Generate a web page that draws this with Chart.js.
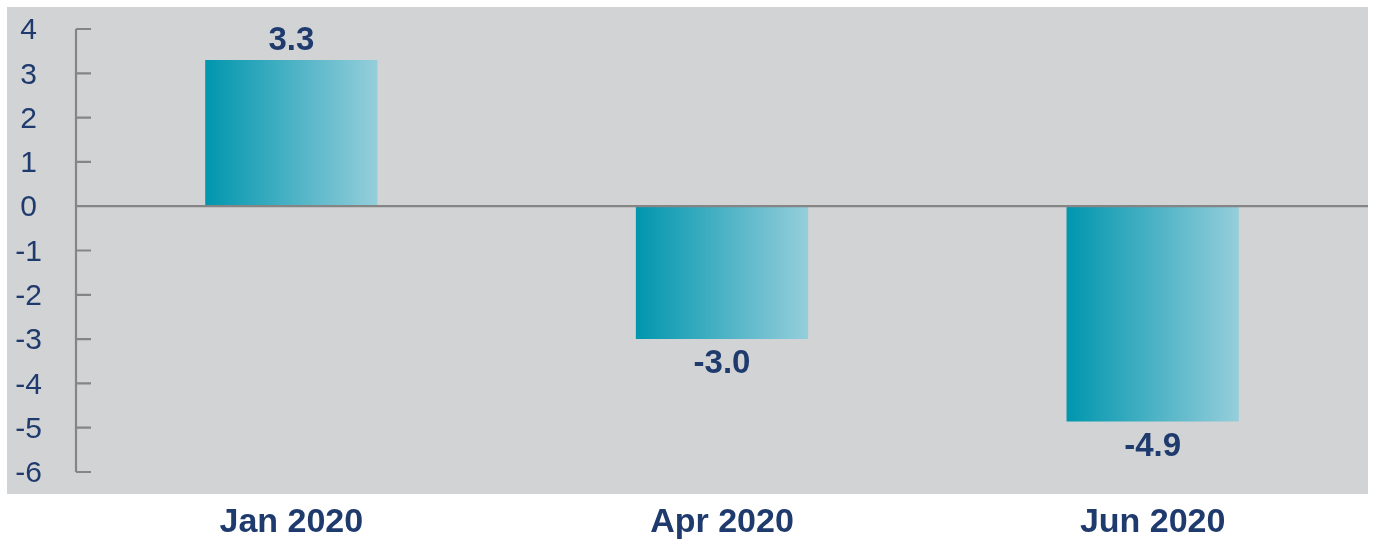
<!DOCTYPE html>
<html>
<head>
<meta charset="utf-8">
<script src="https://cdn.jsdelivr.net/npm/chart.js@4"></script>
<style>
html,body{margin:0;padding:0;background:#ffffff;}
#wrap{width:1373px;height:544px;position:relative;}
</style>
</head>
<body>
<div id="wrap"><canvas id="c" width="1373" height="544"></canvas></div>
<script>
const categories = ["Jan 2020", "Apr 2020", "Jun 2020"];
const values = [3.3, -3.0, -4.86];
const yMin = -6;
const yMax = 4;

const NAVY = "#1f3b6e";
const AXIS = "#858585";
const FONT = "'Liberation Sans', Arial, Helvetica, sans-serif";

const bgPlugin = {
  id: "bgPlugin",
  beforeDraw(chart) {
    const ctx = chart.ctx;
    const a = chart.chartArea;
    ctx.save();
    ctx.fillStyle = "#d2d3d5";
    ctx.fillRect(7, 7, a.right - 7, 494 - 7);
    ctx.restore();
  }
};

const gradPlugin = {
  id: "gradPlugin",
  beforeDatasetsDraw(chart) {
    const ctx = chart.ctx;
    chart.getDatasetMeta(0).data.forEach(el => {
      const l = el.x - el.width / 2, r = el.x + el.width / 2;
      const g = ctx.createLinearGradient(l, 0, r, 0);
      g.addColorStop(0, "#0096ae");
      g.addColorStop(1, "#95cedb");
      el.options = Object.assign({}, el.options, { backgroundColor: g });
    });
  }
};

const axisPlugin = {
  id: "axisPlugin",
  afterDatasetsDraw(chart) {
    const ctx = chart.ctx;
    const y = chart.scales.y;
    const x0 = chart.chartArea.left;
    ctx.save();
    ctx.strokeStyle = AXIS;
    ctx.lineWidth = 2.2;
    ctx.beginPath();
    ctx.moveTo(x0, y.getPixelForValue(yMax));
    ctx.lineTo(x0, y.getPixelForValue(yMin));
    y.ticks.forEach(t => {
      const py = y.getPixelForValue(t.value);
      if (t.value !== 0) {
        ctx.moveTo(x0, py);
        ctx.lineTo(x0 + 15, py);
      }
    });
    ctx.stroke();
    const pz = y.getPixelForValue(0);
    ctx.beginPath();
    ctx.moveTo(x0, pz);
    ctx.lineTo(chart.chartArea.right, pz);
    ctx.stroke();
    ctx.restore();
  }
};

const labelPlugin = {
  id: "labelPlugin",
  afterDatasetsDraw(chart) {
    const ctx = chart.ctx;
    const meta = chart.getDatasetMeta(0);
    ctx.save();
    ctx.fillStyle = NAVY;
    ctx.font = "bold 33px " + FONT;
    ctx.textAlign = "center";
    ctx.textBaseline = "middle";
    meta.data.forEach((el, i) => {
      const v = values[i];
      const txt = v.toFixed(1);
      const py = v >= 0 ? el.y - 19 : el.y + 25;
      ctx.fillText(txt, el.x, py);
    });
    ctx.restore();
  }
};

new Chart(document.getElementById("c"), {
  type: "bar",
  data: {
    labels: categories,
    datasets: [{
      data: values,
      backgroundColor: () => "#0096ae",
      borderWidth: 0,
      barPercentage: 0.4,
      categoryPercentage: 1.0
    }]
  },
  options: {
    responsive: false,
    animation: false,
    devicePixelRatio: 1,
    layout: { padding: { left: 0, right: 5, top: 29, bottom: 0 } },
    plugins: { legend: { display: false }, tooltip: { enabled: false } },
    scales: {
      x: {
        offset: true,
        grid: { display: false, drawTicks: false },
        border: { display: false },
        afterFit(s) { s.height = 72; s.paddingLeft = 0; s.paddingRight = 0; },
        ticks: {
          color: NAVY,
          padding: 30,
          font: { family: FONT, size: 34, weight: "bold" }
        }
      },
      y: {
        min: yMin,
        max: yMax,
        grid: { display: false, drawTicks: false },
        border: { display: false },
        afterFit(s) { s.width = 76; s.paddingTop = 0; s.paddingBottom = 0; },
        ticks: {
          stepSize: 1,
          color: NAVY,
          crossAlign: "center",
          padding: 34,
          labelOffset: 2,
          font: { family: FONT, size: 30 }
        }
      }
    }
  },
  plugins: [bgPlugin, gradPlugin, axisPlugin, labelPlugin]
});
</script>
</body>
</html>
